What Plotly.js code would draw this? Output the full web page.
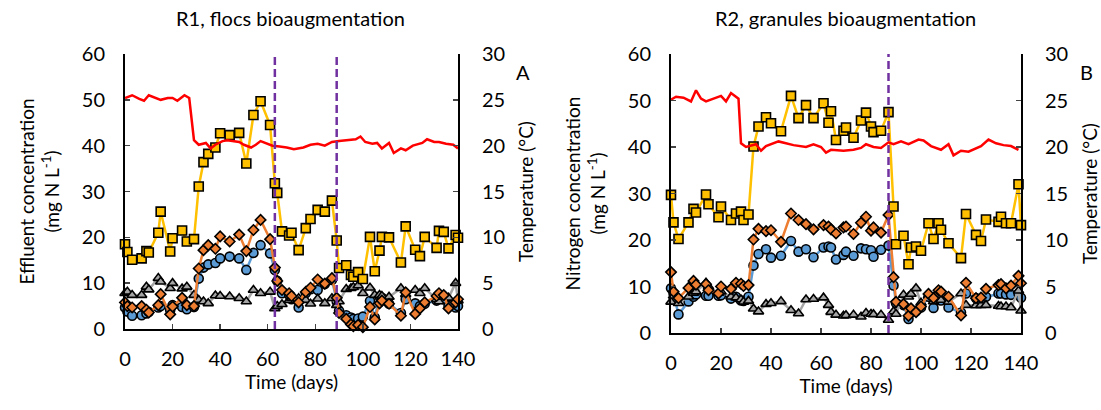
<!DOCTYPE html>
<html>
<head>
<meta charset="utf-8">
<script src="https://cdn.plot.ly/plotly-3.0.1.min.js"></script>
<style>html,body{margin:0;padding:0;background:#fff;}#chart{width:1101px;height:410px;}</style>
</head>
<body>
<div id="chart"></div>
<script>
// ---------- R1, flocs bioaugmentation ----------
const r1Days = [0,1,3,7,9,10,14,15,19,20,24,26,29,31,33,35,38,40,44,48,51,54,57,61,63,64,66,69,70,73,76,78,81,84,87,89,90,93,95,96,98,100,103,105,107,108,111,116,118,122,124,126,131,132,134,136,139,140];
const r1Squares = [18.5,16.8,15.1,15.4,17.0,16.7,21.0,25.6,16.9,19.8,21.5,19.1,19.6,31.1,36.4,38.2,39.6,42.7,42.3,42.8,36.1,46.7,49.7,44.5,31.8,29.7,21.3,20.4,21.0,17.2,22.0,24.0,26.0,25.6,28.0,19.3,13.3,13.9,11.8,11.4,12.4,10.9,20.1,12.6,17.1,20.1,20.0,14.5,22.4,17.3,15.9,20.1,17.7,21.4,21.2,17.6,20.5,19.9];
const r1Diamonds = [5.8,5.0,4.7,5.0,4.2,3.6,5.2,7.6,3.2,4.9,6.8,5.2,5.0,13.2,17.2,18.3,17.5,20.2,19.1,20.6,17.0,21.6,23.8,19.6,13.4,10.5,8.5,7.8,7.2,5.8,8.1,9.0,10.8,9.9,11.1,6.8,3.5,2.2,1.0,0.6,0.9,0.4,4.8,2.1,5.6,6.2,5.5,2.9,8.0,3.3,4.5,5.8,7.2,7.8,7.4,4.5,5.8,6.5];
const r1Circles = [4.7,3.8,2.9,3.0,3.4,3.7,4.7,5.0,4.1,5.2,4.8,4.3,4.8,11.0,13.4,14.1,14.4,15.4,15.8,15.4,12.9,16.6,18.3,16.5,12.9,10.5,7.8,7.4,6.5,4.7,7.8,8.7,8.5,9.8,10.7,6.0,4.0,3.0,2.5,2.2,2.3,2.7,6.1,2.5,7.1,6.8,5.5,3.5,6.5,5.6,5.0,5.5,6.2,6.8,6.5,5.0,4.7,5.0];
const r1Triangles = [7.8,8.1,7.4,7.4,9.2,8.6,11.1,10.3,8.9,10.0,8.8,9.2,7.4,6.3,6.0,5.6,7.3,7.2,7.1,6.7,6.0,8.5,7.8,8.1,4.5,5.0,5.4,6.3,6.8,6.7,6.3,5.5,6.6,5.6,6.7,5.2,6.0,8.7,8.9,9.1,9.5,7.8,9.0,7.4,7.4,7.2,7.0,8.9,7.6,8.5,7.8,8.9,6.5,6.0,7.0,6.8,10.0,6.2];
const r1TempDays = [0,3,6,8,10,13,15,18,20,22,25,27,29,31,34,36,38,41,43,48,50,53,55,57,60,62,65,68,71,75,78,81,84,87,90,94,97,99,101,104,106,108,111,113,116,118,121,125,127,130,132,135,138,140];
const r1Temp = [25.2,25.5,25.1,24.9,25.5,25.2,25.0,25.2,25.2,24.9,25.5,25.2,20.6,20.1,20.3,19.7,20.1,20.5,20.6,20.4,20.1,19.8,20.1,20.5,20.2,20.0,19.9,19.8,19.6,19.8,20.1,20.2,20.0,20.4,20.5,20.6,20.7,21.0,20.4,20.2,20.3,19.7,20.3,19.2,19.7,19.5,20.0,20.3,20.7,20.4,20.4,20.2,20.1,19.7];
const r1Bioaug = [63, 89];

// ---------- R2, granules bioaugmentation ----------
const r2Days = [0,1,3,7,9,10,14,15,19,20,24,26,28,29,31,33,35,38,40,44,48,51,54,57,61,63,64,66,69,70,73,76,78,80,81,84,87,89,90,93,95,96,98,100,103,105,107,108,111,116,118,122,124,126,131,132,134,136,139,140];
const r2Squares = [29.7,23.8,20.2,23.8,26.7,25.9,29.8,27.7,24.9,27.2,24.3,25.7,26.1,24.3,25.5,40.1,44.4,46.4,45.1,43.4,51.0,46.2,49.0,46.2,49.4,45.2,47.7,41.5,43.5,44.2,42.0,45.7,47.4,44.4,43.2,43.5,47.5,27.2,19.1,20.9,14.8,18.4,18.6,17.7,23.6,20.2,23.6,22.2,19.3,16.1,25.6,21.1,19.8,24.4,23.9,25.0,23.6,23.6,32.0,23.2];
const r2Diamonds = [13.1,8.9,7.5,9.7,11.2,10.4,10.5,9.2,8.5,10.0,9.5,10.8,10.6,10.1,10.3,20.1,22.4,21.9,22.1,19.6,25.7,24.3,23.4,22.3,23.2,22.9,22.3,21.4,22.7,22.9,21.3,23.7,25.0,22.0,22.7,21.6,25.4,12.0,6.7,6.2,3.7,5.3,4.5,5.7,8.4,7.5,9.2,8.9,7.8,3.8,10.8,7.5,7.6,9.5,10.3,10.5,9.6,10.2,12.3,10.7];
const r2Circles = [9.6,8.5,4.0,6.8,7.8,8.3,8.0,8.0,8.0,8.1,7.4,7.8,7.0,6.9,7.8,14.5,17.0,18.0,16.2,16.6,19.8,17.5,18.0,16.3,18.4,18.6,18.4,15.8,16.8,17.5,16.6,18.2,18.0,17.8,16.4,17.9,18.8,10.2,6.4,6.0,3.0,4.6,4.7,5.5,7.8,5.4,7.1,7.0,5.5,4.4,8.5,7.5,7.2,7.8,8.5,8.5,8.3,8.2,8.5,7.6];
const r2Triangles = [6.7,8.0,6.4,7.8,8.6,8.9,10.8,10.0,8.6,8.9,7.8,7.6,7.2,6.7,6.9,5.2,4.6,6.2,6.4,6.8,4.9,4.2,7.2,7.3,7.6,6.0,4.5,3.9,3.7,3.8,3.9,3.5,4.3,4.1,4.0,3.9,2.8,4.6,4.1,8.2,7.8,8.4,9.6,6.5,8.0,6.8,9.0,7.1,6.7,8.5,6.0,5.9,6.0,6.0,5.8,5.7,5.7,5.5,9.1,4.8];
const r2TempDays = [0,2,5,8,10,12,14,17,20,22,24,27,28,30,34,36,38,43,49,54,57,60,62,64,69,73,76,78,81,84,87,89,92,95,99,101,104,108,111,113,116,119,124,127,130,133,136,139];
const r2Temp = [25.1,25.4,25.3,24.9,26.1,25.2,24.9,25.2,25.5,24.9,25.8,25.2,20.4,20.0,20.3,19.6,20.1,20.6,20.2,20.0,20.3,20.0,19.4,19.7,19.6,19.7,19.9,20.3,20.0,19.9,20.5,20.3,20.6,20.3,20.8,20.7,20.1,19.7,20.3,19.1,19.6,19.5,20.1,20.8,20.4,20.2,20.1,19.7];
const r2Bioaug = [87];

const panelTitles = ["R1, flocs bioaugmentation", "R2, granules bioaugmentation"];
const panelLetters = ["A", "B"];
const yTitlesLeft = ["Effluent concentration<br>(mg N L<sup>-1</sup>)", "Nitrogen concentration<br>(mg N L<sup>-1</sup>)"];
const xTitle = "Time (days)";
const yTitleRight = "Temperature (°C)";
const xTickVals = [0,20,40,60,80,100,120,140];
const yTickVals = [0,10,20,30,40,50,60];
const tTickVals = [0,5,10,15,20,25,30];

const FONT = "Lato, 'Open Sans', sans-serif";
const C = {sq:'#FFC000', di:'#ED7D31', ci:'#5B9BD5', tr:'#A5A5A5', temp:'#FF0000', bio:'#7030A0'};

function series(x, y, xa, ya, color, symbol, size, name) {
  return {x:x, y:y, xaxis:xa, yaxis:ya, type:'scatter', mode:'lines+markers', name:name,
    line:{color:color, width:2.5},
    marker:{symbol:symbol, size:size, color:color, line:{color:'#000', width:1.6}},
    showlegend:false, cliponaxis:false};
}
function temp(x, y, xa, ya) {
  return {x:x, y:y, xaxis:xa, yaxis:ya, type:'scatter', mode:'lines', name:'Temperature',
    line:{color:C.temp, width:2.5}, showlegend:false};
}

const data = [
  series(r1Days, r1Circles, 'x', 'y', C.ci, 'circle', 9, 'circles'),
  series(r1Days, r1Triangles, 'x', 'y', C.tr, 'triangle-up', 9, 'triangles'),
  series(r1Days, r1Diamonds, 'x', 'y', C.di, 'diamond', 8, 'diamonds'),
  series(r1Days, r1Squares, 'x', 'y', C.sq, 'square', 9, 'squares'),
  temp(r1TempDays, r1Temp, 'x', 'y2'),
  series(r2Days, r2Circles, 'x2', 'y3', C.ci, 'circle', 9, 'circles'),
  series(r2Days, r2Triangles, 'x2', 'y3', C.tr, 'triangle-up', 9, 'triangles'),
  series(r2Days, r2Diamonds, 'x2', 'y3', C.di, 'diamond', 8, 'diamonds'),
  series(r2Days, r2Squares, 'x2', 'y3', C.sq, 'square', 9, 'squares'),
  temp(r2TempDays, r2Temp, 'x2', 'y4')
];

const W = 1101, H = 410;
const tickFont = {family:FONT, size:20, color:'#000'};
const titleFont = {family:FONT, size:19, color:'#000'};
function xAxis(domain, anchor) {
  return {domain:domain, anchor:anchor, range:[0,140], tickvals:xTickVals, ticks:'inside', ticklen:5, tickwidth:1.5,
    showline:true, linecolor:'#000', linewidth:2, showgrid:false, zeroline:false, tickfont:tickFont,
    ticklabelstandoff:11, title:{text:xTitle, font:titleFont, standoff:5}};
}
function yLeft(domain, anchor, title) {
  return {domain:domain, anchor:anchor, range:[0,60], tickvals:yTickVals, ticks:'inside', ticklen:5, tickwidth:1.5,
    showline:true, linecolor:'#000', linewidth:2, showgrid:false, zeroline:false, tickfont:tickFont,
    ticklabelstandoff:14, title:{text:title, font:titleFont, standoff:17}};
}
function yRight(overlay, anchor, standoff) {
  return {overlaying:overlay, anchor:anchor, side:'right', range:[0,30], tickvals:tTickVals, ticks:'inside', ticklen:5, tickwidth:1.5,
    showline:true, linecolor:'#000', linewidth:2, showgrid:false, zeroline:false, tickfont:tickFont,
    ticklabelstandoff:18, title:{text:yTitleRight, font:titleFont, standoff:standoff}};
}

const shapes = [];
r1Bioaug.forEach(d => shapes.push({type:'line', xref:'x', yref:'y domain', x0:d, x1:d, y0:0, y1:1,
  line:{color:C.bio, width:2.5, dash:'8px,4px'}}));
r2Bioaug.forEach(d => shapes.push({type:'line', xref:'x2', yref:'y3 domain', x0:d, x1:d, y0:0, y1:1,
  line:{color:C.bio, width:2.5, dash:'8px,4px'}}));

const annotations = [
  {text:panelTitles[0], xref:'paper', yref:'paper', x:290/W, y:1-18/H, xanchor:'center', yanchor:'middle', showarrow:false, font:{family:FONT, size:20, color:'#000'}},
  {text:panelTitles[1], xref:'paper', yref:'paper', x:845/W, y:1-18/H, xanchor:'center', yanchor:'middle', showarrow:false, font:{family:FONT, size:20, color:'#000'}},
  {text:panelLetters[0], xref:'paper', yref:'paper', x:523/W, y:1-72/H, xanchor:'center', yanchor:'middle', showarrow:false, font:{family:FONT, size:20, color:'#000'}},
  {text:panelLetters[1], xref:'paper', yref:'paper', x:1086/W, y:1-72/H, xanchor:'center', yanchor:'middle', showarrow:false, font:{family:FONT, size:20, color:'#000'}}
];

const layout = {
  width:W, height:H, margin:{l:0, r:0, t:0, b:0}, paper_bgcolor:'#fff', plot_bgcolor:'rgba(0,0,0,0)',
  font:{family:FONT, color:'#000'}, showlegend:false,
  xaxis: xAxis([125/W, 458/W], 'y'),
  yaxis: yLeft([1-329/H, 1-54/H], 'x', yTitlesLeft[0]),
  yaxis2: yRight('y', 'x', 15),
  xaxis2: xAxis([671/W, 1021/W], 'y3'),
  yaxis3: yLeft([1-333/H, 1-54/H], 'x2', yTitlesLeft[1]),
  yaxis4: yRight('y3', 'x2', 19),
  shapes: shapes, annotations: annotations
};

Plotly.newPlot('chart', data, layout, {displayModeBar:false, staticPlot:true});
</script>
</body>
</html>
